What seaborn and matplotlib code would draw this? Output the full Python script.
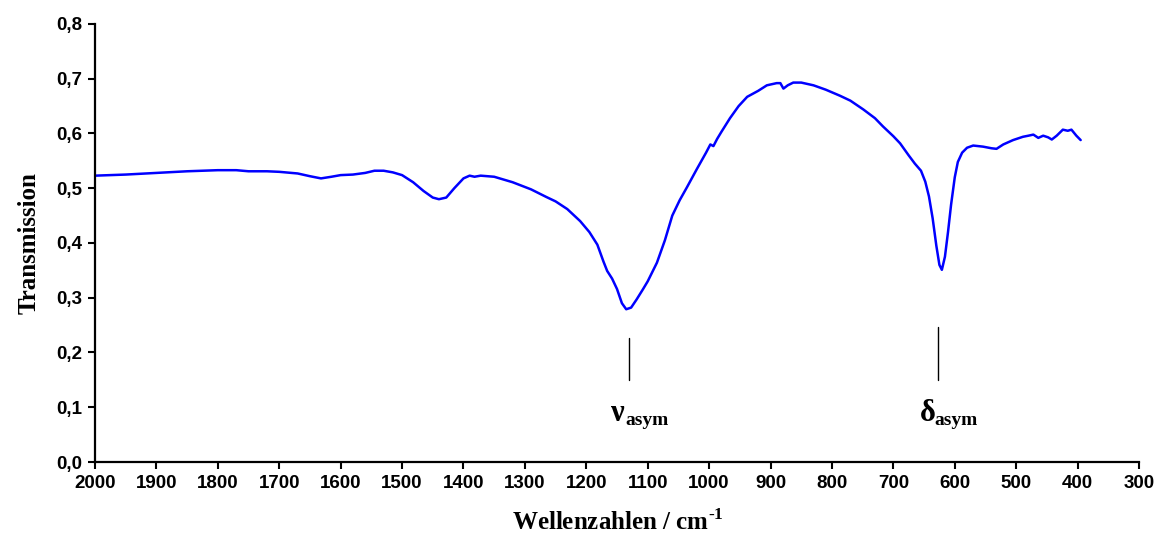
import numpy as np
import pandas as pd
import seaborn as sns
import matplotlib.pyplot as plt
from matplotlib.ticker import MultipleLocator, FuncFormatter

# IR spectrum
wavenumber = [2000, 1950, 1900, 1850, 1800, 1770, 1750, 1720, 1700, 1670,
              1650, 1632, 1615, 1600, 1580, 1560, 1545, 1530, 1515, 1500,
              1482, 1465, 1450, 1440, 1428, 1415, 1400, 1390, 1382, 1372,
              1350, 1320, 1290, 1265, 1250, 1231, 1210, 1195, 1182, 1172,
              1166, 1158, 1150, 1142, 1135, 1127, 1118, 1108, 1100, 1085,
              1072, 1060, 1048, 1036, 1020, 1005, 998, 993, 987, 980,
              966, 952, 938, 920, 906, 890, 884, 879, 872, 863,
              850, 830, 810, 787, 770, 749, 730, 717, 700, 689,
              675, 665, 655, 648, 642, 636, 630, 625, 621, 616,
              611, 606, 600, 595, 588, 580, 570, 554, 540, 532,
              521, 505, 489, 480, 472, 464, 456, 448, 442, 434,
              424, 416, 410, 402, 395]
transmission = [0.523, 0.525, 0.528, 0.531, 0.533, 0.533, 0.531, 0.531, 0.530, 0.527,
                0.522, 0.518, 0.521, 0.524, 0.525, 0.528, 0.532, 0.532, 0.529, 0.524,
                0.511, 0.495, 0.483, 0.480, 0.483, 0.500, 0.518, 0.523, 0.521, 0.523,
                0.521, 0.511, 0.498, 0.484, 0.476, 0.462, 0.440, 0.420, 0.397, 0.366,
                0.349, 0.335, 0.316, 0.290, 0.279, 0.282, 0.297, 0.315, 0.330, 0.364,
                0.405, 0.450, 0.478, 0.502, 0.535, 0.565, 0.580, 0.577, 0.590, 0.603,
                0.628, 0.650, 0.667, 0.678, 0.688, 0.692, 0.692, 0.682, 0.688, 0.693,
                0.693, 0.688, 0.680, 0.669, 0.660, 0.644, 0.628, 0.613, 0.595, 0.582,
                0.560, 0.545, 0.532, 0.512, 0.485, 0.445, 0.395, 0.360, 0.351, 0.375,
                0.420, 0.470, 0.520, 0.548, 0.565, 0.574, 0.578, 0.576, 0.573, 0.572,
                0.580, 0.588, 0.594, 0.596, 0.598, 0.592, 0.596, 0.593, 0.589, 0.596,
                0.607, 0.605, 0.607, 0.596, 0.588]

# marked bands
band_wavenumber = [1130, 627]
band_symbol = ['ν', 'δ']
band_line_top = [0.226, 0.246]
band_line_bottom = [0.150, 0.150]

sns.set_style('ticks')
plt.rcParams['text.color'] = 'black'
plt.rcParams['axes.labelcolor'] = 'black'
plt.rcParams['xtick.color'] = 'black'
plt.rcParams['ytick.color'] = 'black'
plt.rcParams['mathtext.fontset'] = 'custom'
plt.rcParams['mathtext.rm'] = 'Liberation Serif:bold'
plt.rcParams['mathtext.bf'] = 'Liberation Serif:bold'

spectrum = pd.DataFrame({'wn': wavenumber, 't': transmission})

fig = plt.figure(figsize=(11.6, 5.43), dpi=100)
ax = fig.add_axes([95 / 1160, 81 / 543, 1044 / 1160, 438 / 543])

sns.lineplot(data=spectrum, x='wn', y='t', sort=False, estimator=None,
             color='#0000FF', linewidth=1.8, ax=ax)

for wn, sym, top, bottom in zip(band_wavenumber, band_symbol, band_line_top, band_line_bottom):
    ax.plot([wn, wn], [bottom, top], color='black', linewidth=1.0)
    ax.annotate(sym, xy=(wn, bottom), xytext=(-13, -14), textcoords='offset points',
                ha='left', va='top', fontsize=22, fontweight='bold',
                family='Liberation Serif', color='black')
    ax.annotate('asym', xy=(wn, bottom), xytext=(-3, -23), textcoords='offset points',
                ha='left', va='top', fontsize=14, fontweight='bold',
                family='Liberation Serif', color='black')

ax.set_xlim(2000, 300)
ax.set_ylim(0, 0.8)
ax.xaxis.set_major_locator(MultipleLocator(100))
ax.yaxis.set_major_locator(MultipleLocator(0.1))
ax.yaxis.set_major_formatter(FuncFormatter(lambda v, p: f'{v:.1f}'.replace('.', ',')))

for lab in ax.get_xticklabels() + ax.get_yticklabels():
    lab.set_family('Liberation Sans')
    lab.set_fontweight('bold')
    lab.set_fontsize(13.5)
ax.tick_params(direction='out', length=5, width=1.5, colors='black', pad=4)

for side in ['left', 'bottom']:
    ax.spines[side].set_linewidth(1.6)
    ax.spines[side].set_color('black')
sns.despine(ax=ax)

ax.set_xlabel(r'Wellenzahlen / cm$^{\text{-1}}$', fontsize=18, fontweight='bold',
              family='Liberation Serif')
ax.set_ylabel('Transmission', fontsize=18, fontweight='bold', family='Liberation Serif')
ax.xaxis.set_label_coords(0.501, -0.108)
ax.yaxis.set_label_coords(-0.052, 0.5)

fig.savefig('out.png', dpi=100)
